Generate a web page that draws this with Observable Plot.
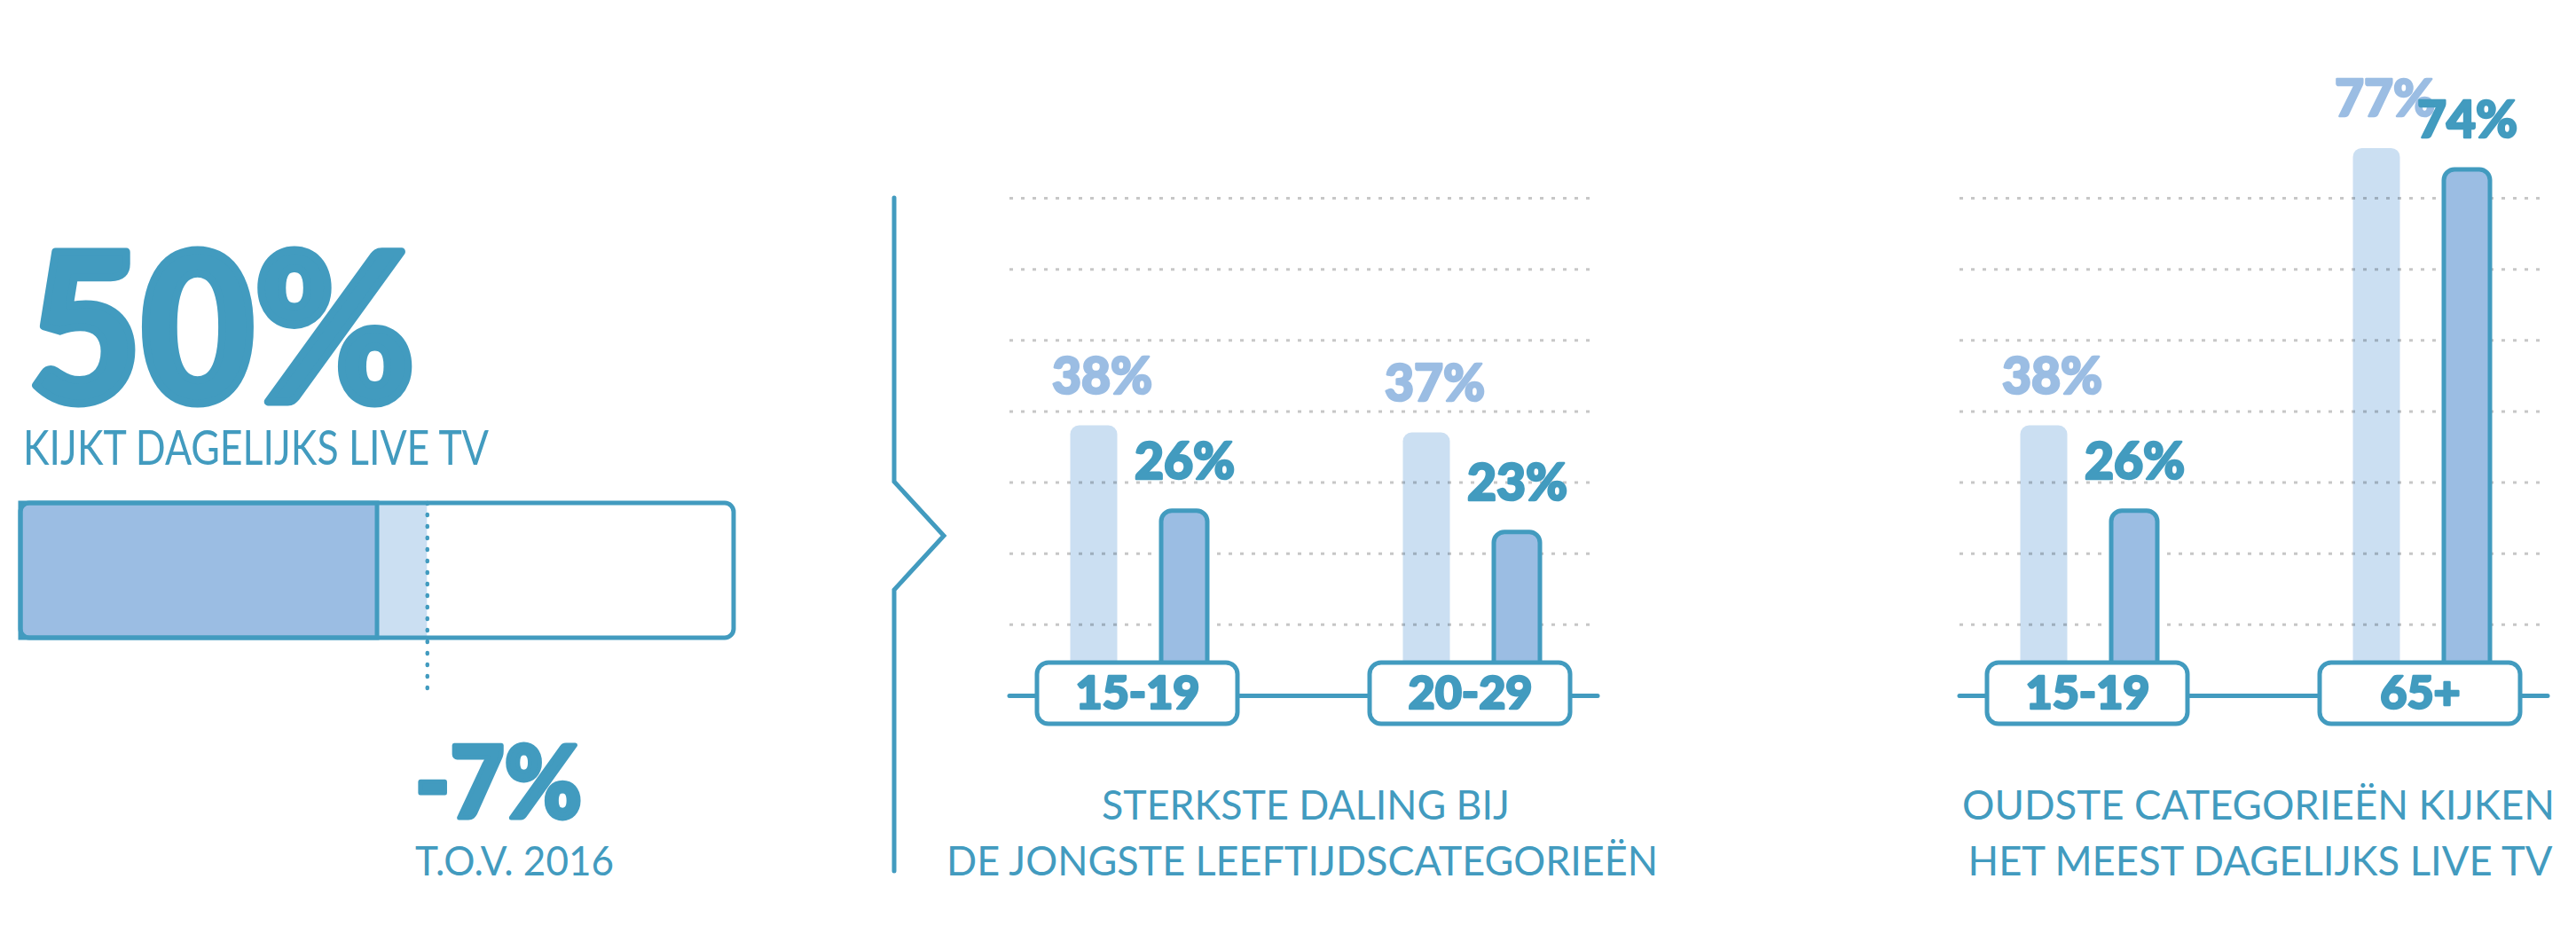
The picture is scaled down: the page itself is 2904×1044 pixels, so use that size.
<!DOCTYPE html>
<html><head><meta charset="utf-8">
<script src="https://cdn.jsdelivr.net/npm/d3@7"></script>
<script src="https://cdn.jsdelivr.net/npm/@observablehq/plot@0.6"></script>
<style>
html,body{margin:0;padding:0;background:#fff;}
#root{position:relative;width:2904px;height:1044px;overflow:hidden;font-family:Lato,sans-serif;}
</style></head><body><div id="root"></div>
<script>
// ---- data ----
const kijktNu = 50;        // % dat dagelijks live tv kijkt
const kijkt2016 = 57;      // % in 2016
const verschil = -7;       // verschil t.o.v. 2016
const schaal = [0, 100];

const agesDaling = ["15-19", "20-29"];
const daling2016 = [38, 37];
const dalingNu = [26, 23];

const agesOudste = ["15-19", "65+"];
const oudste2016 = [38, 77];
const oudsteNu = [26, 74];

const gridTicks = [10, 20, 30, 40, 50, 60, 70];

const captionDaling = ["STERKSTE DALING BIJ", "DE JONGSTE LEEFTIJDSCATEGORIEËN"];
const captionOudste = ["OUDSTE CATEGORIEËN KIJKEN", "HET MEEST DAGELIJKS LIVE TV"];

// ---- styles ----
const TEAL = "#429bbf", MID = "#9bbde3", LIGHT = "#cbdff2";
const root = document.getElementById("root");
function addAt(node, left, top) {
  node.style.position = "absolute"; node.style.left = left + "px"; node.style.top = top + "px";
  root.appendChild(node);
}
const baseStyle = {overflow: "visible", background: "transparent", fontFamily: "Lato, sans-serif"};

// ---- left panel: horizontal gauge ----
const p1 = Plot.plot({
  width: 850, height: 260, marginLeft: 23, marginRight: 23, marginTop: 27, marginBottom: 81,
  x: {domain: schaal, axis: null},
  style: baseStyle,
  marks: [
    Plot.rect([kijkt2016], {x1: kijktNu, x2: d => d, fill: LIGHT}),
    Plot.rect([kijktNu], {x1: schaal[0], x2: d => d, fill: MID, stroke: TEAL, strokeWidth: 5}),
    Plot.rect([schaal[1]], {x1: schaal[0], x2: d => d, fill: "none", stroke: TEAL, strokeWidth: 5, rx: 10}),
    Plot.ruleX([kijkt2016], {stroke: TEAL, strokeWidth: 4.5, strokeDasharray: "1 12", strokeLinecap: "round", insetBottom: -68})
  ]
});
addAt(p1, 0, 540);

// ---- bar charts ----
function barChart(ages, prev, curr) {
  const rows = ages.map((a, i) => ({age: a, prev: prev[i], curr: curr[i]}));
  return Plot.plot({
    width: 683, height: 824, marginLeft: 10, marginRight: 10, marginTop: 223, marginBottom: 40,
    x: {type: "band", domain: ages, paddingInner: 0.232, paddingOuter: 0, axis: null},
    y: {domain: [0, 70], axis: null},
    style: baseStyle,
    marks: [
      Plot.barY(rows, {x: "age", y: "prev", fill: LIGHT, rx: 10, insetLeft: 68.5, insetRight: 166.5}),
      Plot.ruleY(gridTicks, {stroke: "#000", strokeOpacity: 0.22, strokeWidth: 3, strokeDasharray: "4 9"}),
      Plot.barY(rows, {x: "age", y: "curr", fill: MID, stroke: TEAL, strokeWidth: 5, rx: 12, insetLeft: 171, insetRight: 65}),
      Plot.ruleY([0], {stroke: TEAL, strokeWidth: 5, strokeLinecap: "round"}),
      Plot.barY(rows, {x: "age", y1: 0, y2: 0, fill: "white", stroke: TEAL, strokeWidth: 5, rx: 13,
        insetLeft: 31, insetRight: 31, insetTop: -37, insetBottom: -32}),
      Plot.text(rows, {x: "age", y: 0, text: "age", fill: TEAL, stroke: TEAL, strokeWidth: 2.5, strokeLinejoin: "round",
        fontSize: 52, fontWeight: 900, lineAnchor: "middle", dy: -2}),
      Plot.text(rows, {x: "age", y: "prev", text: d => d.prev + "%", fill: MID, stroke: MID, strokeWidth: 2.5, strokeLinejoin: "round",
        fontSize: 57, fontWeight: 900, lineAnchor: "bottom", dx: -40, dy: -36}),
      Plot.text(rows, {x: "age", y: "curr", text: d => d.curr + "%", fill: TEAL, stroke: TEAL, strokeWidth: 2.5, strokeLinejoin: "round",
        fontSize: 57, fontWeight: 900, lineAnchor: "bottom", dx: 53, dy: -36})
    ]
  });
}
addAt(barChart(agesDaling, daling2016, dalingNu), 1128, 0);
addAt(barChart(agesOudste, oudste2016, oudsteNu), 2199, 0);

// ---- overlay: headline texts, captions, divider ----
const over = d3.create("svg").attr("width", 2904).attr("height", 1044)
  .style("position", "absolute").style("left", "0px").style("top", "0px").style("pointer-events", "none");
function label(txt, x, y, size, weight, width, anchor = "start", heavy = 0) {
  const t = over.append("text").attr("x", x).attr("y", y).attr("font-size", size).attr("font-weight", weight)
    .attr("text-anchor", anchor).attr("fill", TEAL).attr("font-family", "Lato, sans-serif")
    .attr("textLength", width).attr("lengthAdjust", "spacingAndGlyphs").text(txt);
  if (heavy) t.attr("stroke", TEAL).attr("stroke-width", heavy).attr("stroke-linejoin", "round");
}
label(kijktNu + "%", 32, 453, 232, 900, 436, "start", 9);
label("KIJKT DAGELIJKS LIVE TV", 26, 524, 54, 400, 525);
label(verschil + "%", 468, 922, 112, 900, 188, "start", 5);
label("T.O.V. 2016", 468, 987, 47, 400, 224);
label(captionDaling[0], 1472, 924, 46, 400, 460, "middle");
label(captionDaling[1], 1468, 987, 46, 400, 802, "middle");
label(captionOudste[0], 2546, 924, 46, 400, 668, "middle");
label(captionOudste[1], 2548, 987, 46, 400, 659, "middle");
over.append("path")
  .attr("d", "M1008,223 L1008,543 L1064,604 L1008,665 L1008,982")
  .attr("fill", "none").attr("stroke", TEAL).attr("stroke-width", 5)
  .attr("stroke-linecap", "round").attr("stroke-linejoin", "miter");
root.appendChild(over.node());
</script>
</body></html>
